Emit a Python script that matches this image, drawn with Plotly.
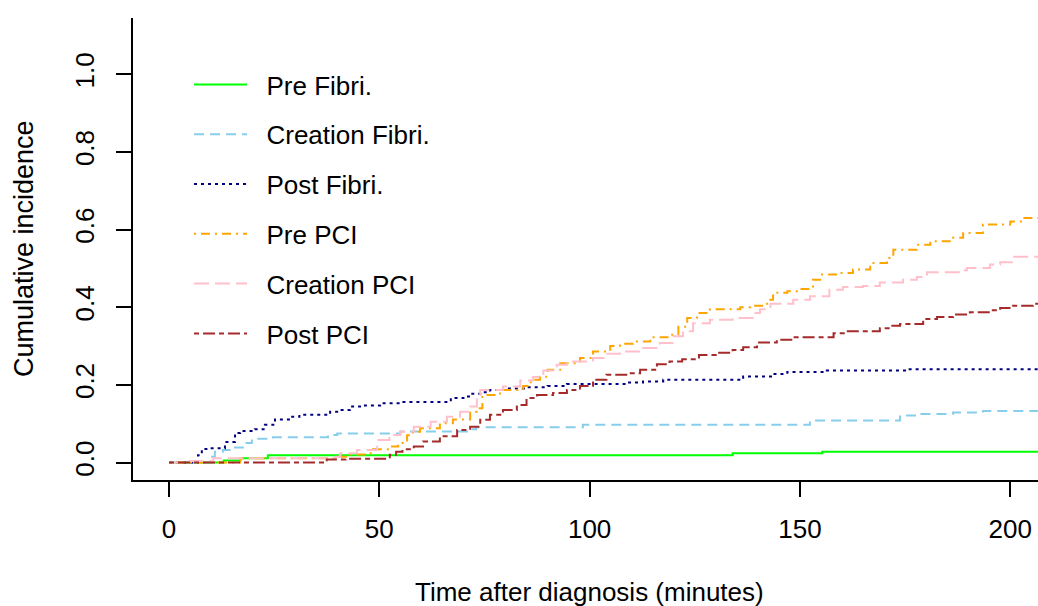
import plotly.graph_objects as go

# ---- data ----
series_names = ["Pre Fibri.", "Creation Fibri.", "Post Fibri.", "Pre PCI", "Creation PCI", "Post PCI"]

pre_fibri_t = [0, 13, 17, 23.5, 134, 155.3, 210]
pre_fibri_v = [0, 0.005, 0.011, 0.019, 0.024, 0.028, 0.028]

creation_fibri_t = [0, 9.7, 10.9, 12.8, 15.7, 18, 19.7, 24.7, 37.8, 40, 55, 71.6, 73, 98.4,
                    152.4, 173.8, 178.5, 186.4, 193.5, 210]
creation_fibri_v = [0, 0.015, 0.028, 0.032, 0.039, 0.050, 0.061, 0.065, 0.071, 0.075, 0.080,
                    0.086, 0.091, 0.097, 0.108, 0.121, 0.125, 0.129, 0.133, 0.133]

post_fibri_t = [0, 6.9, 7.8, 9.7, 13.3, 15.7, 16.9, 20.4, 22.8, 25.2, 28.8, 31, 38.3, 40.7, 43,
                45.4, 50.2, 55, 67, 70, 71.6, 74, 76.3, 80.3, 85, 90, 94.6, 109, 112.7, 117.5,
                136.5, 143.6, 147, 156.4, 175.5, 210]
post_fibri_v = [0, 0.019, 0.035, 0.037, 0.053, 0.076, 0.081, 0.086, 0.097, 0.111, 0.118, 0.123,
                0.131, 0.135, 0.144, 0.147, 0.153, 0.156, 0.166, 0.170, 0.177, 0.181, 0.187,
                0.191, 0.194, 0.197, 0.202, 0.206, 0.2085, 0.213, 0.2215, 0.228, 0.233, 0.237,
                0.2405, 0.2405]

pre_pci_t = [0, 16.9, 39.6, 43, 47, 48.5, 52.5, 54.5, 56.6, 58, 59.7, 64.4, 67.5, 71.6, 73.2,
             74.5, 78.7, 84.2, 86, 88.2, 90, 93, 97.7, 100.8, 104.9, 107.2, 110.3, 114.4, 119.1,
             121.1, 123.2, 125.5, 128.6, 135.8, 138.2, 142.2, 143.6, 147, 150, 153.1, 154.8,
             159.5, 162.6, 166.7, 170.7, 172.2, 177.8, 181, 186.4, 188.8, 193.5, 200, 203, 210]
pre_pci_v = [0, 0.011, 0.015, 0.021, 0.024, 0.034, 0.041, 0.050, 0.070, 0.0795, 0.088, 0.101,
             0.111, 0.131, 0.140, 0.174, 0.187, 0.197, 0.213, 0.221, 0.239, 0.256, 0.269, 0.286,
             0.300, 0.306, 0.312, 0.323, 0.329, 0.350, 0.372, 0.385, 0.395, 0.400, 0.404, 0.419,
             0.437, 0.441, 0.447, 0.471, 0.484, 0.488, 0.497, 0.514, 0.527, 0.548, 0.561, 0.570,
             0.579, 0.591, 0.613, 0.621, 0.630, 0.630]

creation_pci_t = [0, 3.3, 10.5, 39.6, 40.7, 44.7, 49.5, 52.4, 55, 58.2, 62.2, 66.1, 69.2, 71.6,
                  73.2, 74, 79.4, 83.5, 86.5, 89, 92.2, 94.6, 100.8, 104.2, 107.2, 112.7, 116.7,
                  120, 122.2, 124.6, 128.6, 134, 139, 140.5, 143, 148.4, 152.4, 157, 160.2, 165,
                  169, 174.5, 177.8, 180.2, 188, 189.7, 195.2, 197.6, 200.4, 210]
creation_pci_v = [0, 0.004, 0.011, 0.015, 0.024, 0.032, 0.058, 0.071, 0.0795, 0.092, 0.105,
                  0.118, 0.131, 0.144, 0.174, 0.187, 0.196, 0.211, 0.220, 0.237, 0.252, 0.260,
                  0.269, 0.280, 0.286, 0.295, 0.308, 0.325, 0.338, 0.359, 0.368, 0.372, 0.385,
                  0.395, 0.409, 0.419, 0.428, 0.445, 0.452, 0.455, 0.464, 0.471, 0.478, 0.490,
                  0.495, 0.501, 0.510, 0.516, 0.530, 0.530]

post_pci_t = [0, 37.5, 42, 52.5, 54, 55.5, 58.2, 60.4, 64.4, 68.5, 71.6, 74, 76.3, 79.4, 82.7,
              85, 87.5, 91.3, 94.6, 97.7, 100.8, 104, 109, 112, 116, 119, 122, 126, 130, 134,
              136.5, 139.8, 144.5, 148.4, 158, 161, 169, 171.4, 173.8, 179.3, 182.6, 186.4,
              190.4, 195.2, 197.6, 200.7, 205.4, 210]
post_pci_v = [0, 0.008, 0.010, 0.020, 0.028, 0.034, 0.041, 0.054, 0.068, 0.084, 0.092, 0.110,
              0.123, 0.135, 0.148, 0.166, 0.174, 0.179, 0.187, 0.197, 0.213, 0.226, 0.230,
              0.239, 0.253, 0.260, 0.266, 0.277, 0.283, 0.290, 0.297, 0.309, 0.316, 0.323,
              0.333, 0.338, 0.346, 0.352, 0.357, 0.370, 0.375, 0.381, 0.387, 0.392, 0.398,
              0.404, 0.409, 0.409]

x_ticks = [0, 50, 100, 150, 200]
y_ticks = [0.0, 0.2, 0.4, 0.6, 0.8, 1.0]

# ---- styles ----
colors = ["#00FF00", "#87CEEB", "#000080", "#FFA500", "#FFC0CB", "#A52A2A"]
dashes = ["solid", "10px,6px", "3px,4px", "2px,5px,9px,5px", "15px,6px", "5px,4px,12px,4px"]

times = [pre_fibri_t, creation_fibri_t, post_fibri_t, pre_pci_t, creation_pci_t, post_pci_t]
values = [pre_fibri_v, creation_fibri_v, post_fibri_v, pre_pci_v, creation_pci_v, post_pci_v]

FONT = "Arial, Liberation Sans, sans-serif"
FS = 26
NB = "\u00a0\u00a0"  # small gap between legend line sample and its label

fig = go.Figure()
for i, name in enumerate(series_names):
    fig.add_trace(go.Scatter(
        x=times[i], y=values[i], mode="lines", name=NB + name,
        line=dict(color=colors[i], width=2, dash=dashes[i], shape="hv"),
        legendgroup="g%d" % i,
    ))

W, H = 1038, 606
L, R, T, B = 133, 0, 18, 126
PW = W - L - R
PH = H - T - B

fig.update_layout(
    width=W, height=H,
    margin=dict(l=L, r=R, t=T, b=B, autoexpand=False),
    paper_bgcolor="white", plot_bgcolor="white",
    font=dict(family=FONT, size=FS, color="black"),
    showlegend=True,
    legend=dict(
        x=(189 - L) / PW, xanchor="left",
        y=(480 - 61) / PH, yanchor="top",
        bgcolor="rgba(0,0,0,0)", borderwidth=0,
        font=dict(family=FONT, size=FS, color="black"),
        itemwidth=53, tracegroupgap=13,
    ),
    xaxis=dict(
        range=[-8.56, 206.6], showgrid=False, zeroline=False,
        showline=True, linecolor="black", linewidth=2, mirror=False,
        ticks="outside", ticklen=15, tickwidth=2, tickcolor="black",
        tickvals=x_ticks, ticktext=[str(v) for v in x_ticks],
        ticklabelstandoff=10,
        tickfont=dict(family=FONT, size=FS, color="black"),
    ),
    yaxis=dict(
        range=[-0.045, 1.145], showgrid=False, zeroline=False,
        showline=True, linecolor="black", linewidth=2, mirror=False,
        ticks="outside", ticklen=15, tickwidth=2, tickcolor="black",
        tickvals=y_ticks, ticktext=["%.1f" % v for v in y_ticks],
        tickangle=-90, ticklabelstandoff=12,
        tickfont=dict(family=FONT, size=FS, color="black"),
    ),
    annotations=[
        dict(text="Time after diagnosis (minutes)", xref="x", x=100, yref="paper", y=0,
             yanchor="middle", xanchor="center", yshift=-112, showarrow=False,
             font=dict(family=FONT, size=FS, color="black")),
        dict(text="Cumulative incidence", xref="paper", x=0, yref="y", y=0.55,
             xanchor="center", yanchor="middle", xshift=-109, textangle=-90, showarrow=False,
             font=dict(family=FONT, size=27, color="black")),
    ],
)

fig.write_html(
    "out.html",
    config={"displayModeBar": False},
    post_script="document.body.style.margin='0';document.body.style.overflow='hidden';",
)
